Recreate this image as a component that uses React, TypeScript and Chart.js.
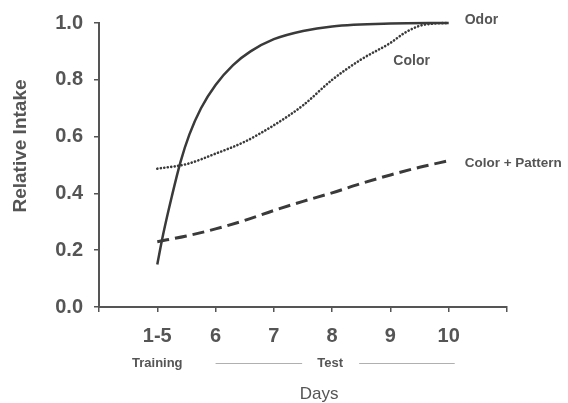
import React, { useEffect, useRef } from "react";
import { Chart, registerables } from "chart.js";

Chart.register(...registerables);

const dayLabels = ["1-5", "6", "7", "8", "9", "10"];
const yTicks = [0, 0.2, 0.4, 0.6, 0.8, 1.0];

const odorDays = [1, 1.1, 1.25, 1.4, 1.55, 1.75, 2, 2.3, 2.6, 3, 3.5, 4, 5, 6];
const odorValues = [0.15, 0.255, 0.39, 0.512, 0.607, 0.7, 0.782, 0.852, 0.9, 0.943, 0.972, 0.988, 0.998, 1.0];

const colorDays = [1, 1.5, 2, 2.5, 3, 3.5, 4, 4.5, 5, 5.25, 5.5, 5.75, 6];
const colorValues = [0.487, 0.503, 0.54, 0.582, 0.64, 0.71, 0.8, 0.872, 0.93, 0.966, 0.99, 0.998, 1.0];

const patternDays = [1, 1.5, 2, 2.5, 3, 3.5, 4, 4.5, 5, 5.5, 6];
const patternValues = [0.23, 0.25, 0.275, 0.305, 0.34, 0.372, 0.402, 0.435, 0.465, 0.492, 0.515];

const seriesNames = ["Odor", "Color", "Color + Pattern"];

const TEXT = "#555555";
const LINE = "#3a3a3a";
const FONT = '"Liberation Sans", Arial, sans-serif';

const toPoints = (xs: number[], ys: number[]) => xs.map((x, i) => ({ x, y: ys[i] }));

const annotate = {
  id: "annotate",
  afterDraw(chart: any) {
    const ctx = chart.ctx;
    const xs = chart.scales.x;
    const ys = chart.scales.y;
    ctx.save();
    ctx.fillStyle = TEXT;
    ctx.textBaseline = "middle";

    // series labels
    ctx.font = `bold 14px ${FONT}`;
    ctx.textAlign = "left";
    ctx.fillText(seriesNames[0], xs.getPixelForValue(6) + 16, ys.getPixelForValue(1.0) - 3);
    ctx.fillText(seriesNames[1], xs.getPixelForValue(5.05), ys.getPixelForValue(0.865));
    ctx.font = `bold 13.5px ${FONT}`;
    ctx.fillText(seriesNames[2], xs.getPixelForValue(6) + 16, ys.getPixelForValue(0.505));

    // training / test row
    const rowY = 363;
    ctx.font = `bold 13px ${FONT}`;
    ctx.textAlign = "center";
    ctx.fillText("Training", xs.getPixelForValue(1), rowY);
    const testX = xs.getPixelForValue(4) - 2;
    ctx.fillText("Test", testX, rowY);
    ctx.strokeStyle = "#b0b0b0";
    ctx.lineWidth = 1;
    ctx.beginPath();
    ctx.moveTo(xs.getPixelForValue(2), rowY + 0.5);
    ctx.lineTo(testX - 28, rowY + 0.5);
    ctx.moveTo(testX + 29, rowY + 0.5);
    ctx.lineTo(xs.getPixelForValue(6) + 6, rowY + 0.5);
    ctx.stroke();

    // axis titles
    ctx.font = `17px ${FONT}`;
    ctx.fillText("Days", xs.getPixelForValue(4) - 13, 394);

    ctx.translate(21, 146);
    ctx.rotate(-Math.PI / 2);
    ctx.font = `bold 19px ${FONT}`;
    ctx.fillText("Relative Intake", 0, 0);
    ctx.restore();
  },
};

export default function App() {
  const ref = useRef<HTMLCanvasElement | null>(null);

  useEffect(() => {
    if (!ref.current) return;
    const chart = new Chart(ref.current, {
      type: "line",
      data: {
        datasets: [
          {
            label: seriesNames[0],
            data: toPoints(odorDays, odorValues),
            borderColor: LINE,
            borderWidth: 2.5,
            pointRadius: 0,
            cubicInterpolationMode: "monotone",
            clip: false,
          },
          {
            label: seriesNames[1],
            data: toPoints(colorDays, colorValues),
            borderColor: LINE,
            borderWidth: 2.6,
            borderDash: [0.1, 3.4],
            borderCapStyle: "round",
            pointRadius: 0,
            cubicInterpolationMode: "monotone",
            clip: false,
          },
          {
            label: seriesNames[2],
            data: toPoints(patternDays, patternValues),
            borderColor: LINE,
            borderWidth: 3,
            borderDash: [12, 6],
            pointRadius: 0,
            cubicInterpolationMode: "monotone",
            clip: false,
          },
        ],
      },
      options: {
        animation: false,
        responsive: false,
        layout: { padding: { top: 21, right: 61, left: 0, bottom: 0 } },
        plugins: { legend: { display: false }, tooltip: { enabled: false } },
        scales: {
          x: {
            type: "linear",
            min: 0,
            max: 7,
            afterBuildTicks: (s: any) => {
              s.ticks = [0, 1, 2, 3, 4, 5, 6, 7].map((v) => ({ value: v }));
            },
            afterFit: (s: any) => {
              s.height = 96;
            },
            ticks: {
              callback: (v: any) => dayLabels[Number(v) - 1] ?? "",
              color: TEXT,
              font: { family: FONT, size: 20, weight: "bold" },
              padding: 12,
              maxRotation: 0,
              autoSkip: false,
            },
            grid: { drawOnChartArea: false, tickLength: 5, color: "#555", lineWidth: 1.5 },
            border: { color: "#555", width: 2 },
          },
          y: {
            min: 0,
            max: 1,
            afterBuildTicks: (s: any) => {
              s.ticks = yTicks.map((v) => ({ value: v }));
            },
            afterFit: (s: any) => {
              s.width = 99;
            },
            ticks: {
              callback: (v: any) => Number(v).toFixed(1),
              color: TEXT,
              font: { family: FONT, size: 20, weight: "bold" },
              padding: 11,
            },
            grid: { drawOnChartArea: false, tickLength: 5, color: "#555", lineWidth: 1.5 },
            border: { color: "#555", width: 2 },
          },
        },
      },
      plugins: [annotate],
    } as any);
    return () => chart.destroy();
  }, []);

  return (
    <div style={{ position: "fixed", left: 0, top: 0, width: 568, height: 403, background: "#fff" }}>
      <canvas ref={ref} width={568} height={403} />
    </div>
  );
}
